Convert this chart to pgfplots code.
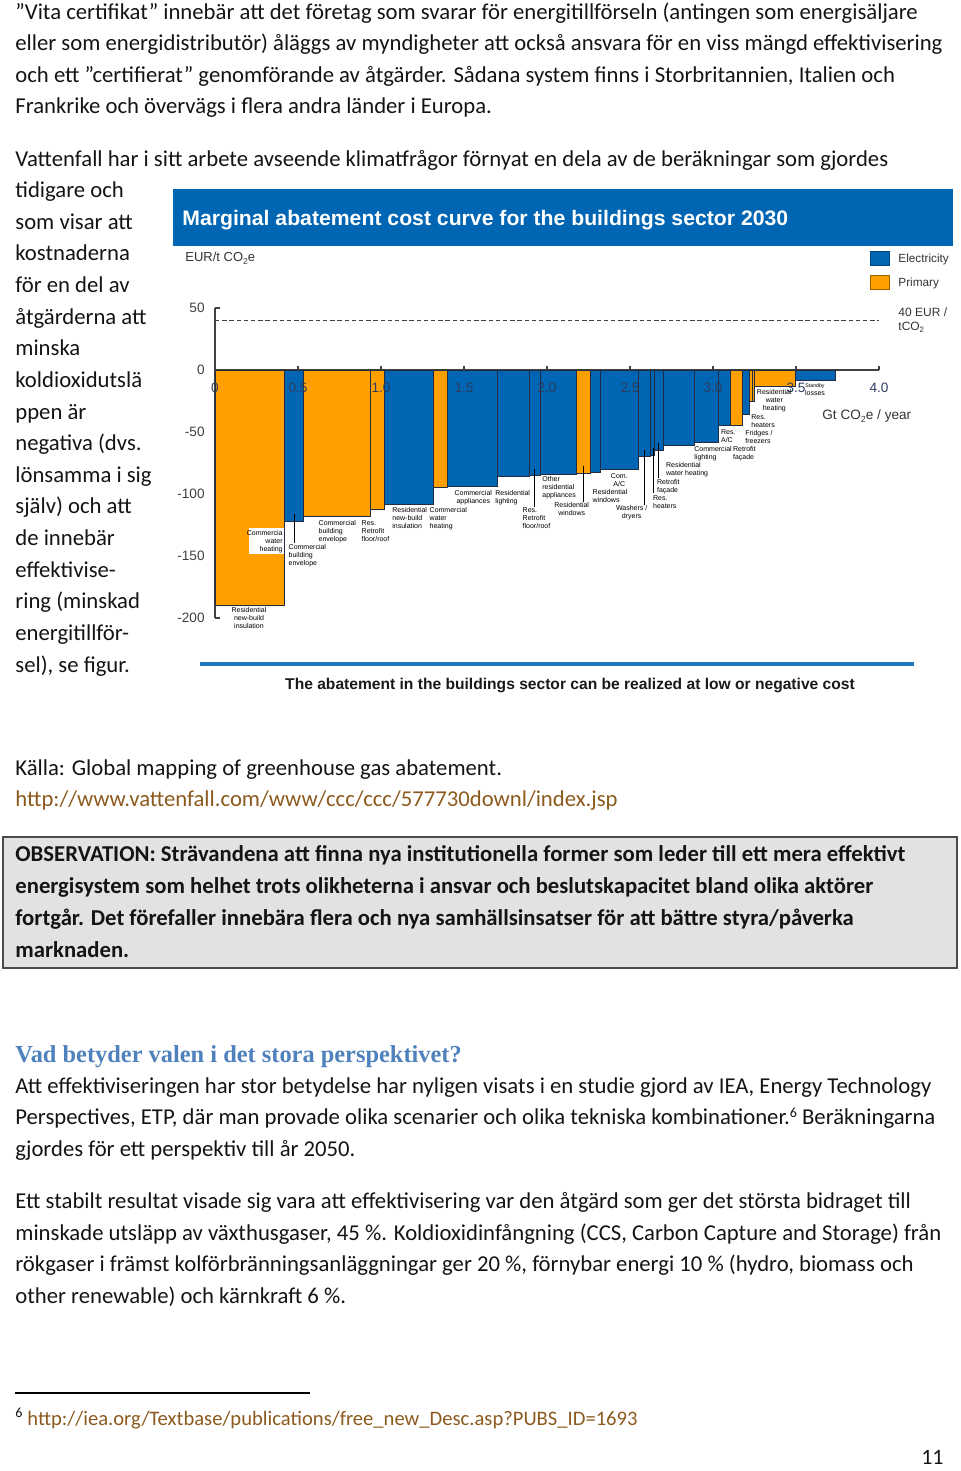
\documentclass[border=0pt]{standalone}
\usepackage{fontspec}
\usepackage{pgfplots}
\pgfplotsset{compat=1.18}
\setmainfont{Carlito}
\newfontfamily\arial{Liberation Sans}
\newfontfamily\serifhead{Liberation Serif}
\definecolor{elec}{RGB}{0,102,179}
\definecolor{prim}{RGB}{255,160,0}
\definecolor{edge}{RGB}{35,45,65}
\definecolor{txt}{RGB}{20,20,20}
\definecolor{linkc}{RGB}{140,90,30}
\definecolor{headc}{RGB}{79,129,189}
\definecolor{boxg}{RGB}{226,226,226}
\definecolor{ticklab}{RGB}{45,60,95}
\definecolor{rulec}{RGB}{30,120,185}
\newcommand\sub[1]{\raisebox{-0.35ex}{\scalebox{0.65}{#1}}}
\pgfplotsset{
  eb/.style={fill=elec,draw=edge,line width=0.35pt,mark=none},
  pb/.style={fill=prim,draw=edge,line width=0.35pt,mark=none}}
\begin{document}
\begin{tikzpicture}[x=0.5pt,y=0.5pt]
\useasboundingbox (0,0) rectangle (960,-1471);
\tikzset{
  body/.style={anchor=mid west, inner sep=0pt, font=\fontsize{11.35}{13}\selectfont, text=txt, yshift=-1.4pt},
  bodyb/.style={body, font=\fontsize{11.35}{13}\selectfont\bfseries},
  lab/.style={inner sep=0pt, font=\arial\fontsize{3.5}{4}\selectfont, align=left, anchor=north west},
  labc/.style={lab, align=center, anchor=north},
  lead/.style={draw=black, line width=0.3pt}
}
% ---------------- body text top ----------------
\node[body] at (15,-12) {”Vita certifikat” innebär att det företag som svarar för energitillförseln (antingen som energisäljare};
\node[body] at (15,-43) {eller som energidistributör) åläggs av myndigheter att också ansvara för en viss mängd effektivisering};
\node[body] at (15,-75) {och ett ”certifierat” genomförande av åtgärder. Sådana system finns i Storbritannien, Italien och};
\node[body] at (15,-106) {Frankrike och övervägs i flera andra länder i Europa.};
\node[body] at (15,-159) {Vattenfall har i sitt arbete avseende klimatfrågor förnyat en dela av de beräkningar som gjordes};
\node[body] at (15,-190) {tidigare och};
\node[body] at (15,-222) {som visar att};
\node[body] at (15,-253) {kostnaderna};
\node[body] at (15,-285) {för en del av};
\node[body] at (15,-317) {åtgärderna att};
\node[body] at (15,-348) {minska};
\node[body] at (15,-380) {koldioxidutslä};
\node[body] at (15,-412) {ppen är};
\node[body] at (15,-443) {negativa (dvs.};
\node[body] at (15,-475) {lönsamma i sig};
\node[body] at (15,-506) {själv) och att};
\node[body] at (15,-538) {de innebär};
\node[body] at (15,-570) {effektivise-};
\node[body] at (15,-601) {ring (minskad};
\node[body] at (15,-633) {energitillför-};
\node[body] at (15,-665) {sel), se figur.};
% ---------------- chart frame ----------------
\fill[elec] (173,-189.5) rectangle (953,-246);
\node[anchor=mid west, inner sep=0pt, text=white, font=\arial\bfseries\fontsize{10.5}{12}\selectfont] at (182,-221)
  {\scalebox{1.01}[1]{Marginal abatement cost curve for the buildings sector 2030}};
\node[anchor=mid west, inner sep=0pt, text=black!80, font=\arial\fontsize{6.5}{8}\selectfont] at (185,-257) {EUR/t CO\sub{2}e};
\draw[fill=elec, draw=elec!70!black, line width=0.3pt] (870,-251.5) rectangle (889,-265);
\draw[fill=prim, draw=prim!60!black, line width=0.3pt] (870,-275) rectangle (889,-289);
\node[anchor=mid west, inner sep=0pt, text=black!80, font=\arial\fontsize{5.9}{8}\selectfont] at (898,-258) {Electricity};
\node[anchor=mid west, inner sep=0pt, text=black!80, font=\arial\fontsize{5.9}{8}\selectfont] at (898,-282) {Primary};
\node[anchor=mid west, inner sep=0pt, text=black!80, font=\arial\fontsize{6}{8}\selectfont] at (898,-312) {40 EUR /};
\node[anchor=mid west, inner sep=0pt, text=black!80, font=\arial\fontsize{6}{8}\selectfont] at (898,-326) {tCO\sub{2}};
\node[anchor=mid west, inner sep=0pt, text=black!80, font=\arial\fontsize{6.8}{8}\selectfont] at (822,-415) {Gt CO\sub{2}e / year};
% ---------------- axis ----------------
\begin{axis}[
  at={(107.5pt,-309pt)}, anchor=south west,
  x=83pt, y=0.62pt,
  xmin=0, xmax=4, ymin=-200, ymax=50,
  axis x line=none, axis y line*=left,
  ytick={-200,-150,-100,-50,0,50},
  tick align=inside, major tick length=2.5pt,
  y axis line style={draw=black!75, line width=0.6pt},
  ytick style={draw=black!75, line width=0.6pt},
  /pgf/number format/assume math mode=true,
  yticklabel style={font=\arial\fontsize{6.8}{8}\selectfont, text=black!75, inner sep=0pt, xshift=-5pt},
  clip=false]
\draw[black!75, line width=0.6pt] (axis cs:0,0) -- (axis cs:4,0);
\draw[black!75, line width=0.6pt, dash pattern=on 2.2pt off 1.4pt] (axis cs:0,40) -- (axis cs:4,40);
\pgfplotsinvokeforeach{0.5,1,1.5,2,2.5,3,3.5,4}{\draw[black!75, line width=0.6pt] (axis cs:#1,0) -- ++(0pt,1.8pt);}
\addplot[pb] coordinates {(0,0)(0,-190)(0.416,-190)(0.416,0)} --cycle;
\addplot[eb] coordinates {(0.416,0)(0.416,-122)(0.532,-122)(0.532,0)} --cycle;
\addplot[pb] coordinates {(0.532,0)(0.532,-118)(0.936,-118)(0.936,0)} --cycle;
\addplot[pb] coordinates {(0.936,0)(0.936,-112)(1.020,-112)(1.020,0)} --cycle;
\addplot[eb] coordinates {(1.020,0)(1.020,-108)(1.313,-108)(1.313,0)} --cycle;
\addplot[pb] coordinates {(1.313,0)(1.313,-95)(1.398,-95)(1.398,0)} --cycle;
\addplot[eb] coordinates {(1.398,0)(1.398,-94)(1.703,-94)(1.703,0)} --cycle;
\addplot[eb] coordinates {(1.703,0)(1.703,-86)(1.896,-86)(1.896,0)} --cycle;
\addplot[eb] coordinates {(1.896,0)(1.896,-85)(1.958,-85)(1.958,0)} --cycle;
\addplot[eb] coordinates {(1.958,0)(1.958,-84)(2.175,-84)(2.175,0)} --cycle;
\addplot[pb] coordinates {(2.175,0)(2.175,-83)(2.259,-83)(2.259,0)} --cycle;
\addplot[eb] coordinates {(2.259,0)(2.259,-82.5)(2.323,-82.5)(2.323,0)} --cycle;
\addplot[eb] coordinates {(2.323,0)(2.323,-80)(2.549,-80)(2.549,0)} --cycle;
\addplot[eb] coordinates {(2.549,0)(2.549,-69.5)(2.624,-69.5)(2.624,0)} --cycle;
\addplot[eb] coordinates {(2.624,0)(2.624,-68.5)(2.648,-68.5)(2.648,0)} --cycle;
\addplot[eb] coordinates {(2.648,0)(2.648,-65)(2.700,-65)(2.700,0)} --cycle;
\addplot[eb] coordinates {(2.700,0)(2.700,-60.5)(2.886,-60.5)(2.886,0)} --cycle;
\addplot[eb] coordinates {(2.886,0)(2.886,-58.5)(3.034,-58.5)(3.034,0)} --cycle;
\addplot[eb] coordinates {(3.034,0)(3.034,-45)(3.104,-45)(3.104,0)} --cycle;
\addplot[pb] coordinates {(3.104,0)(3.104,-44.5)(3.175,-44.5)(3.175,0)} --cycle;
\addplot[eb] coordinates {(3.175,0)(3.175,-36)(3.217,-36)(3.217,0)} --cycle;
\addplot[pb] coordinates {(3.217,0)(3.217,-25.5)(3.237,-25.5)(3.237,0)} --cycle;
\addplot[pb] coordinates {(3.237,0)(3.237,-25)(3.251,-25)(3.251,0)} --cycle;
\addplot[pb] coordinates {(3.251,0)(3.251,-13.5)(3.496,-13.5)(3.496,0)} --cycle;
\addplot[eb] coordinates {(3.496,0)(3.496,-8.5)(3.737,-8.5)(3.737,0)} --cycle;
\tikzset{xl/.style={inner sep=0pt, text=ticklab, font=\arial\fontsize{6.8}{8}\selectfont}}
\node[xl] at (axis cs:0,-14.5) {0};
\node[xl] at (axis cs:0.5,-14.5) {0.5};
\node[xl] at (axis cs:1,-14.5) {1.0};
\node[xl] at (axis cs:1.5,-14.5) {1.5};
\node[xl] at (axis cs:2,-14.5) {2.0};
\node[xl] at (axis cs:2.5,-14.5) {2.5};
\node[xl] at (axis cs:3,-14.5) {3.0};
\node[xl] at (axis cs:3.5,-14.5) {3.5};
\node[xl] at (axis cs:4,-14.5) {4.0};
\end{axis}
% ---------------- bar annotations ----------------
\fill[white] (249.3,-528.3) rectangle (283.6,-554.3);
\node[labc] at (249,-607) {Residential\\new-build\\insulation};
\node[lab, align=right, anchor=north east] at (283,-530.5) {Commercia\\water\\heating};
\draw[lead] (294,-514) -- (294,-543);
\node[lab] at (288.3,-544.2) {Commercial\\building\\envelope};
\node[lab] at (318.3,-520.2) {Commercial\\building\\envelope};
\node[lab] at (361.3,-520.2) {Res.\\Retrofit\\floor/roof};
\node[lab] at (392,-507.2) {Residential\\new-build\\insulation};
\node[lab] at (429.3,-507.2) {Commercial\\water\\heating};
\node[labc] at (473.3,-490.5) {Commercial\\appliances};
\node[lab] at (495,-490.5) {Residential\\lighting};
\draw[lead] (534.3,-469.3) -- (534.3,-506.7);
\node[lab] at (522.3,-507.2) {Res.\\Retrofit\\floor/roof};
\node[lab] at (542,-476.5) {Other\\residential\\appliances};
\draw[lead] (583.3,-465.7) -- (583.3,-501.7);
\node[labc] at (571.7,-502.5) {Residential\\windows};
\node[labc] at (619.3,-473.2) {Com.\\A/C};
\node[lab] at (592.3,-488.8) {Residential\\windows};
\draw[lead] (644.3,-450) -- (644.3,-505);
\node[labc] at (631.7,-504.8) {Washers /\\dryers};
\draw[lead] (653.3,-448) -- (653.3,-493.3);
\node[lab] at (652.7,-494.8) {Res.\\heaters};
\draw[lead] (658.7,-443.3) -- (658.7,-478.3);
\node[lab] at (656.7,-478.8) {Retrofit\\façade};
\node[lab] at (665.7,-462.2) {Residential\\water heating};
\node[lab] at (694,-445.8) {Commercial\\lighting};
\node[lab] at (720.7,-429.2) {Res.\\A/C};
\node[lab] at (732.7,-446.5) {Retrofit\\façade};
\node[lab] at (745,-429.8) {Fridges /\\freezers};
\node[lab] at (751,-413.8) {Res.\\heaters};
\node[labc] at (774.3,-388.8) {Residential\\water\\heating};
\node[labc] at (815,-383.2) {{\fontsize{2.6}{4}\selectfont Standby}\\losses};
% bottom rule and caption
\draw[rulec, line width=2pt] (200,-664) -- (914,-664);
\node[inner sep=0pt, text=black!90, font=\arial\bfseries\fontsize{7.8}{9}\selectfont] at (570,-685)
  {The abatement in the buildings sector can be realized at low or negative cost};
% ---------------- body text bottom ----------------
\node[body] at (15,-768) {Källa: Global mapping of greenhouse gas abatement.};
\node[body, text=linkc] at (15,-799) {http://www.vattenfall.com/www/ccc/ccc/577730downl/index.jsp};
\draw[fill=boxg, draw=black!70, line width=0.7pt] (3,-837) rectangle (957,-968);
\node[bodyb] at (15,-854) {OBSERVATION: Strävandena att finna nya institutionella former som leder till ett mera effektivt};
\node[bodyb] at (15,-886) {energisystem som helhet trots olikheterna i ansvar och beslutskapacitet bland olika aktörer};
\node[bodyb] at (15,-918) {fortgår. Det förefaller innebära flera och nya samhällsinsatser för att bättre styra/påverka};
\node[bodyb] at (15,-950) {marknaden.};
\node[anchor=mid west, inner sep=0pt, text=headc, font=\serifhead\bfseries\fontsize{12.2}{14}\selectfont] at (15,-1058) {Vad betyder valen i det stora perspektivet?};
\node[body] at (15,-1086) {Att effektiviseringen har stor betydelse har nyligen visats i en studie gjord av IEA, Energy Technology};
\node[body] at (15,-1117) {Perspectives, ETP, där man provade olika scenarier och olika tekniska kombinationer.\raisebox{0.7ex}{\fontsize{7}{7}\selectfont 6} Beräkningarna};
\node[body] at (15,-1149) {gjordes för ett perspektiv till år 2050.};
\node[body] at (15,-1201) {Ett stabilt resultat visade sig vara att effektivisering var den åtgärd som ger det största bidraget till};
\node[body] at (15,-1233) {minskade utsläpp av växthusgaser, 45 \%. Koldioxidinfångning (CCS, Carbon Capture and Storage) från};
\node[body] at (15,-1264) {rökgaser i främst kolförbränningsanläggningar ger 20 \%, förnybar energi 10 \% (hydro, biomass och};
\node[body] at (15,-1296) {other renewable) och kärnkraft 6 \%.};
\draw[black, line width=0.7pt] (15,-1393) -- (310,-1393);
\node[anchor=mid west, inner sep=0pt, text=txt, font=\fontsize{7}{7}\selectfont] at (15,-1413) {6};
\node[anchor=mid west, inner sep=0pt, text=linkc, font=\fontsize{10.3}{11}\selectfont] at (27,-1421) {http://iea.org/Textbase/publications/free\_new\_Desc.asp?PUBS\_ID=1693};
\node[anchor=mid east, inner sep=0pt, text=txt, font=\fontsize{11}{12}\selectfont] at (944,-1460) {11};
\end{tikzpicture}
\end{document}
